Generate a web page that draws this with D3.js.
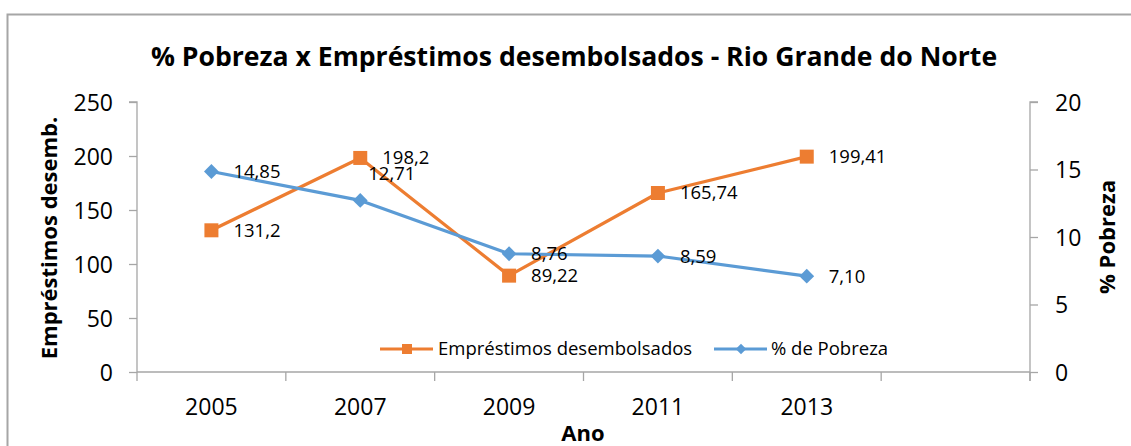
<!DOCTYPE html>
<html>
<head>
<meta charset="utf-8">
<script src="https://cdn.jsdelivr.net/npm/d3@7"></script>
<style>
  body { margin: 0; background: #fff; }
  svg { font-family: "Open Sans", sans-serif; }
  .tick text { fill: #000; }
</style>
</head>
<body>
<svg width="1131" height="446"></svg>
<script>
// dados do gráfico
const anos = ["2005", "2007", "2009", "2011", "2013", ""];
const emprestimos = [131.2, 198.2, 89.22, 165.74, 199.41];
const pobreza = [14.85, 12.71, 8.76, 8.59, 7.10];
const ticksEsq = [0, 50, 100, 150, 200, 250];
const ticksDir = [0, 5, 10, 15, 20];

const laranja = "#ED7D31", azul = "#5B9BD5", cinza = "#A6A6A6";
const fonte = "'Open Sans', sans-serif";
const fmt = (v, casas) => v.toFixed(casas).replace(".", ",");

const svg = d3.select("svg");
const esq = 137, dir = 1030, topo = 102, base = 372;

// moldura
svg.append("rect").attr("x", 7.5).attr("y", 14.5).attr("width", 1140).attr("height", 450)
  .attr("fill", "none").attr("stroke", cinza).attr("stroke-width", 2);

const x = d3.scaleBand().domain(anos).range([esq, dir]);
const yE = d3.scaleLinear().domain([0, 250]).range([base, topo]);
const yD = d3.scaleLinear().domain([0, 20]).range([base, topo]);

// eixo x: marcas nas bordas das categorias
const gx = svg.append("g");
gx.append("line").attr("x1", esq).attr("x2", dir).attr("y1", base).attr("y2", base)
  .attr("stroke", cinza).attr("stroke-width", 1.3);
anos.concat(["fim"]).forEach((a, i) => {
  const xx = i < anos.length ? x(a) : dir;
  gx.append("line").attr("x1", xx).attr("x2", xx).attr("y1", base).attr("y2", base + 9)
    .attr("stroke", cinza).attr("stroke-width", 1.3);
});
gx.selectAll("text.ano").data(anos).enter().append("text")
  .attr("x", d => x(d) + x.bandwidth() / 2).attr("y", 415)
  .attr("text-anchor", "middle").attr("font-size", 23).text(d => d);

// eixo esquerdo
const ge = svg.append("g").attr("transform", `translate(${esq},0)`)
  .call(d3.axisLeft(yE).tickValues(ticksEsq).tickSize(8).tickPadding(16));
ge.attr("font-family", fonte).attr("font-size", 23);
ge.selectAll("path, line").attr("stroke", cinza).attr("stroke-width", 1.3);
ge.selectAll("text").attr("dy", "0.35em");
ge.select(".domain").attr("d", `M-8,${topo}H0V${base}`);

// eixo direito
const gd = svg.append("g").attr("transform", `translate(${dir},0)`)
  .call(d3.axisRight(yD).tickValues(ticksDir).tickSize(8).tickPadding(17));
gd.attr("font-family", fonte).attr("font-size", 23);
gd.selectAll("path, line").attr("stroke", cinza).attr("stroke-width", 1.3);
gd.selectAll("text").attr("dy", "0.35em");
gd.select(".domain").attr("d", `M8,${topo}H0V${base + 9}`);

// títulos
svg.append("text").attr("x", 574).attr("y", 66).attr("text-anchor", "middle")
  .attr("font-size", 26.6).attr("font-weight", "bold")
  .text("% Pobreza x Empréstimos desembolsados - Rio Grande do Norte");
svg.append("text").attr("transform", "translate(57,238) rotate(-90)").attr("text-anchor", "middle")
  .attr("font-size", 22).attr("font-weight", "bold").text("Empréstimos desemb.");
svg.append("text").attr("transform", "translate(1115,237) rotate(-90)").attr("text-anchor", "middle")
  .attr("font-size", 22).attr("font-weight", "bold").text("% Pobreza");
svg.append("text").attr("x", 583).attr("y", 441).attr("text-anchor", "middle")
  .attr("font-size", 22).attr("font-weight", "bold").text("Ano");

const cx = i => x(anos[i]) + x.bandwidth() / 2;

// série laranja
svg.append("path").datum(emprestimos)
  .attr("d", d3.line().x((d, i) => cx(i)).y(d => yE(d)))
  .attr("fill", "none").attr("stroke", laranja).attr("stroke-width", 3.2).attr("stroke-linejoin", "round");
svg.selectAll("rect.m").data(emprestimos).enter().append("rect")
  .attr("x", (d, i) => cx(i) - 7).attr("y", d => yE(d) - 7).attr("width", 14).attr("height", 14)
  .attr("fill", laranja);

// série azul
svg.append("path").datum(pobreza)
  .attr("d", d3.line().x((d, i) => cx(i)).y(d => yD(d)))
  .attr("fill", "none").attr("stroke", azul).attr("stroke-width", 3.2).attr("stroke-linejoin", "round");
const losango = d3.symbol().type(d3.symbolDiamond2).size(140);
svg.selectAll("path.m").data(pobreza).enter().append("path")
  .attr("transform", (d, i) => `translate(${cx(i)},${yD(d)})`)
  .attr("d", losango).attr("fill", azul);

// rótulos
svg.selectAll("text.le").data(emprestimos).enter().append("text")
  .attr("x", (d, i) => cx(i) + 22).attr("y", d => yE(d)).attr("dy", "0.35em")
  .attr("font-size", 18.5).text(d => fmt(d, d === 131.2 || d === 198.2 ? 1 : 2));
svg.selectAll("text.lp").data(pobreza).enter().append("text")
  .attr("x", (d, i) => cx(i) + (i === 1 ? 8 : 22))
  .attr("y", (d, i) => yD(d) + (i === 1 ? -27 : 0)).attr("dy", "0.35em")
  .attr("font-size", 18.5).text(d => fmt(d, 2));

// legenda
const leg = svg.append("g");
leg.append("line").attr("x1", 380).attr("x2", 433).attr("y1", 349).attr("y2", 349)
  .attr("stroke", laranja).attr("stroke-width", 3.2);
leg.append("rect").attr("x", 402).attr("y", 344).attr("width", 10).attr("height", 10).attr("fill", laranja);
leg.append("text").attr("x", 438).attr("y", 349).attr("dy", "0.35em").attr("font-size", 18.5)
  .text("Empréstimos desembolsados");
leg.append("line").attr("x1", 714).attr("x2", 767).attr("y1", 349).attr("y2", 349)
  .attr("stroke", azul).attr("stroke-width", 3.2);
leg.append("path").attr("transform", "translate(741,349)")
  .attr("d", d3.symbol().type(d3.symbolDiamond2).size(70)).attr("fill", azul);
leg.append("text").attr("x", 771).attr("y", 349).attr("dy", "0.35em").attr("font-size", 18.5)
  .text("% de Pobreza");
</script>
</body>
</html>
